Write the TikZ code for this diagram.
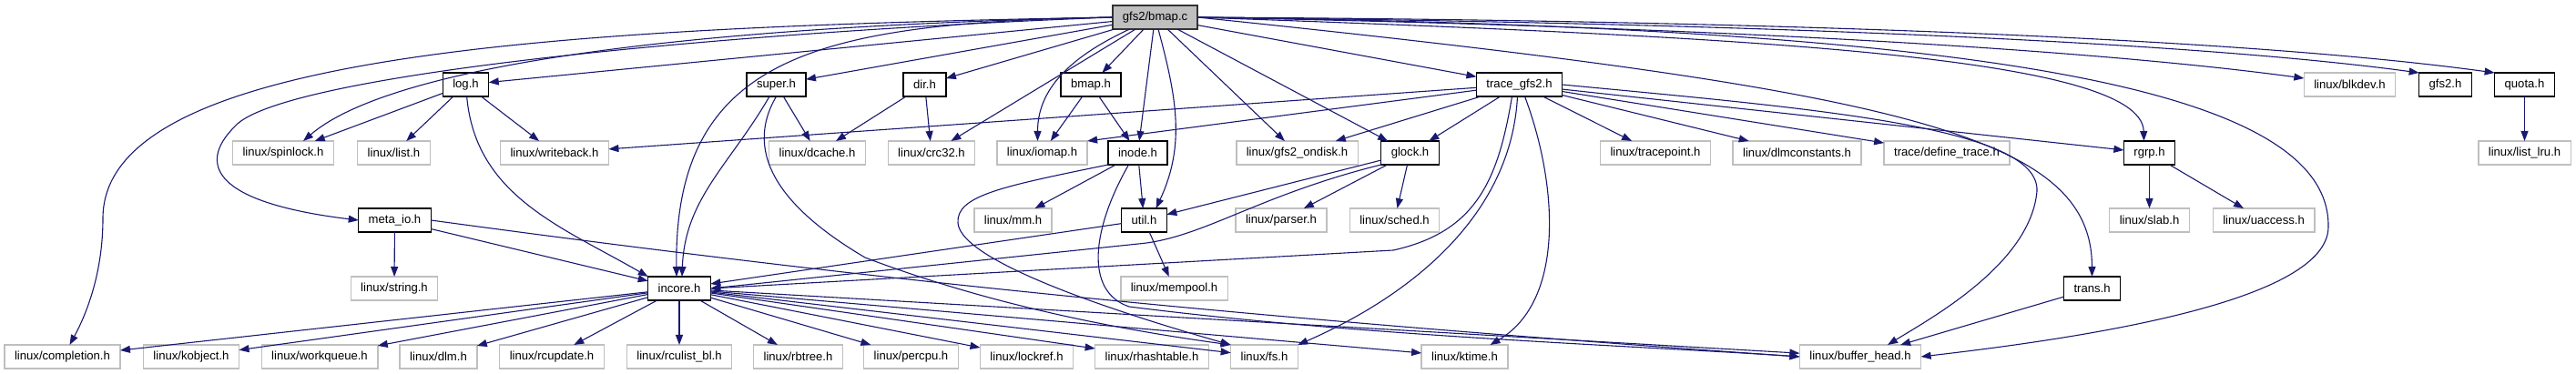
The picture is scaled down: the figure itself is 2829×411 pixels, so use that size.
\documentclass[tikz,border=0pt]{standalone}
\usepackage{fontspec}
\setmainfont{Liberation Sans}
\usepackage{tikz}
\usetikzlibrary{arrows.meta, positioning}
\definecolor{edgeblue}{RGB}{25,25,112}
\definecolor{greybox}{RGB}{191,191,191}
\newcommand{\depfont}{\fontsize{13.1pt}{15pt}\selectfont}

\begin{document}
\begin{tikzpicture}[
    x=1pt, y=-1pt,
    hdr/.style={
      rectangle, draw=black, line width=1.4pt, fill=white,
      inner xsep=11pt, inner ysep=0pt, minimum height=26pt,
      outer sep=0pt, font=\depfont
    },
    ext/.style={hdr, draw=greybox},
    root/.style={hdr, fill=greybox, draw=black!80},
    arr/.style={-{Triangle[length=11pt,width=8pt]}, draw=edgeblue, line width=1.1pt}
  ]
  \useasboundingbox (0,0) rectangle (2829,411);

  \node[root] (bmapc) at (1268.5,19) {gfs2/bmap.c};

  \node[hdr] (logh)    at (511.5,93)  {log.h};
  \node[hdr] (superh)  at (852.5,93)  {super.h};
  \node[hdr] (dirh)    at (1015.5,93) {dir.h};
  \node[hdr] (bmaph)   at (1198,93)   {bmap.h};
  \node[hdr] (traceh)  at (1668.5,93) {trace\_gfs2.h};
  \node[ext] (blkdev)  at (2580.5,93) {linux/blkdev.h};
  \node[hdr] (gfstwoh) at (2685.5,93) {gfs2.h};
  \node[hdr] (quotah)  at (2772.5,93) {quota.h};

  \node[ext] (spinlock)    at (311,168)    {linux/spinlock.h};
  \node[ext] (list)        at (432.5,168)  {linux/list.h};
  \node[ext] (writeback)   at (609,168)    {linux/writeback.h};
  \node[ext] (dcache)      at (897.5,168)  {linux/dcache.h};
  \node[ext] (crc)         at (1023,168)   {linux/crc32.h};
  \node[ext] (iomap)       at (1144.5,168) {linux/iomap.h};
  \node[hdr] (inodeh)      at (1249.5,168) {inode.h};
  \node[ext] (ondisk)      at (1424.5,168) {linux/gfs2\_ondisk.h};
  \node[hdr] (glockh)      at (1548.5,168) {glock.h};
  \node[ext] (tracepoint)  at (1818,168)   {linux/tracepoint.h};
  \node[ext] (dlmconst)    at (1973.5,168) {linux/dlmconstants.h};
  \node[ext] (definetrace) at (2138,168)   {trace/define\_trace.h};
  \node[hdr] (rgrph)       at (2360.5,168) {rgrp.h};
  \node[ext] (listlru)     at (2772.5,168) {linux/list\_lru.h};

  \node[hdr] (metaioh) at (433.5,242)  {meta\_io.h};
  \node[ext] (mm)      at (1112.5,242) {linux/mm.h};
  \node[hdr] (utilh)   at (1256.5,242) {util.h};
  \node[ext] (parser)  at (1407,242)   {linux/parser.h};
  \node[ext] (sched)   at (1531.5,242) {linux/sched.h};
  \node[ext] (slab)    at (2360.5,242) {linux/slab.h};
  \node[ext] (uaccess) at (2486,242)   {linux/uaccess.h};

  \node[ext] (string)  at (433,317)    {linux/string.h};
  \node[hdr] (incoreh) at (746,317)    {incore.h};
  \node[ext] (mempool) at (1289.5,317) {linux/mempool.h};
  \node[hdr] (transh)  at (2297.5,317) {trans.h};

  \node[ext] (completion) at (68.5,392)  {linux/completion.h};
  \node[ext] (kobject)    at (210,392)   {linux/kobject.h};
  \node[ext] (workqueue)  at (351,392)   {linux/workqueue.h};
  \node[ext] (dlm)        at (481.5,392) {linux/dlm.h};
  \node[ext] (rcupdate)   at (606,392)   {linux/rcupdate.h};
  \node[ext] (rculist)    at (746,392)   {linux/rculist\_bl.h};
  \node[ext] (rbtree)     at (876.5,392) {linux/rbtree.h};
  \node[ext] (percpu)     at (1000.5,392) {linux/percpu.h};
  \node[ext] (lockref)    at (1127.5,392) {linux/lockref.h};
  \node[ext] (rhashtable) at (1265,392)  {linux/rhashtable.h};
  \node[ext] (fs)         at (1388.5,392) {linux/fs.h};
  \node[ext] (ktime)      at (1608.5,392) {linux/ktime.h};
  \node[ext] (bufferhead) at (2043,392)  {linux/buffer\_head.h};

  \draw[arr] (bmapc.west) .. controls (600,30) and (113,60) .. (113,240)
             .. controls (113,300) and (95,345) .. ([xshift=8]completion.north);
  \draw[arr] (bmapc.west) .. controls (700,30) and (420,80) .. ([xshift=22]spinlock.north);
  \draw[arr] (bmapc.west) .. controls (800,35) and (330,80) .. (262,135)
             .. controls (215,178) and (230,222) .. (metaioh.west);
  \draw[arr] (bmapc) -- (logh);
  \draw[arr] (bmapc) -- (superh);
  \draw[arr] (bmapc.west) .. controls (900,25) and (740,60) .. ([xshift=-3]incoreh.north);
  \draw[arr] (bmapc) -- (dirh);
  \draw[arr] (bmapc) -- (crc);
  \draw[arr] (bmapc) to[out=-155, in=90] ([xshift=-5]iomap.north);
  \draw[arr] (bmapc) -- (bmaph);
  \draw[arr] (bmapc) -- (inodeh);
  \draw[arr] (bmapc) to[out=-75, in=65] ([xshift=13]utilh.north);
  \draw[arr] (bmapc) -- (ondisk);
  \draw[arr] (bmapc) -- (glockh);
  \draw[arr] (bmapc) -- (traceh);
  \draw[arr] (bmapc.east) .. controls (2100,100) and (2297,150) .. (transh.north);
  \draw[arr] (bmapc.east) .. controls (1900,40) and (2352,60) .. ([xshift=-6]rgrph.north);
  \draw[arr] (bmapc.east) .. controls (1900,30) and (2300,55) .. ([yshift=7]blkdev.west);
  \draw[arr] (bmapc.east) .. controls (1900,25) and (2400,45) .. (gfstwoh.north west);
  \draw[arr] (bmapc.east) .. controls (1900,22) and (2450,40) .. (quotah.north west);
  \draw[arr] (bmapc.east) .. controls (2200,30) and (2560,100) .. (2557,250)
             .. controls (2555,330) and (2300,370) .. (bufferhead.east);

  \draw[arr] (logh) -- (spinlock);
  \draw[arr] (logh) -- (list);
  \draw[arr] (logh) -- (writeback);
  \draw[arr] (logh) to[out=-85, in=150] (incoreh.north west);

  \draw[arr] (metaioh) -- (string);
  \draw[arr] (metaioh) -- (incoreh);
  \draw[arr] (metaioh.east) .. controls (900,300) and (1300,345) .. (bufferhead.west);

  \draw[arr] (superh) to[out=-120, in=88] ([xshift=3]incoreh.north);
  \draw[arr] (superh) -- (dcache);
  \draw[arr] (superh.south) .. controls (815,170) and (860,230) .. (950,283)
             .. controls (1100,340) and (1250,365) .. (fs.north west);

  \draw[arr] (dirh) -- (dcache);
  \draw[arr] (dirh) -- (crc);

  \draw[arr] (bmaph) -- (iomap);
  \draw[arr] (bmaph) -- (inodeh);

  \draw[arr] (inodeh) -- (mm);
  \draw[arr] (inodeh) -- (utilh);
  \draw[arr] (inodeh.south west) .. controls (1100,205) and (1050,215) .. (1052,245)
             .. controls (1055,290) and (1250,350) .. (fs.north west);
  \draw[arr] ([xshift=-10]inodeh.south) .. controls (1200,250) and (1190,320) .. (1240,337)
             .. controls (1500,370) and (1800,380) .. (bufferhead.west);

  \draw[arr] (utilh) -- (incoreh);
  \draw[arr] (utilh) -- (mempool);

  \draw[arr] (glockh) -- (utilh);
  \draw[arr] (glockh.south west) .. controls (1380,215) and (1320,262) .. (1250,268)
             -- (incoreh.east);
  \draw[arr] (glockh) -- (parser);
  \draw[arr] (glockh) -- (sched);

  \draw[arr] (traceh) -- (writeback);
  \draw[arr] (traceh) -- (iomap.north east);
  \draw[arr] (traceh) -- (ondisk);
  \draw[arr] (traceh) -- (glockh);
  \draw[arr] ([xshift=-8]traceh.south) .. controls (1645,200) and (1620,255) .. (1530,275)
             -- (incoreh.east);
  \draw[arr] ([xshift=-2]traceh.south) .. controls (1660,230) and (1560,320) .. (fs.north east);
  \draw[arr] ([xshift=6]traceh.south) .. controls (1710,200) and (1720,330) .. ([xshift=28]ktime.north);
  \draw[arr] (traceh) -- (tracepoint);
  \draw[arr] (traceh) -- (dlmconst);
  \draw[arr] (traceh) -- (definetrace);
  \draw[arr] (traceh) -- (rgrph);
  \draw[arr] (traceh.east) .. controls (2000,120) and (2240,140) .. (2237,210)
             .. controls (2230,290) and (2120,350) .. ([xshift=30]bufferhead.north);

  \draw[arr] (rgrph) -- (slab);
  \draw[arr] (rgrph) -- (uaccess);
  \draw[arr] (quotah) -- (listlru);
  \draw[arr] (transh) -- (bufferhead);

  \draw[arr] (incoreh) -- (completion);
  \draw[arr] (incoreh) -- (kobject);
  \draw[arr] (incoreh) -- (workqueue);
  \draw[arr] (incoreh) -- (dlm);
  \draw[arr] (incoreh) -- (rcupdate);
  \draw[arr] (incoreh) -- (rculist);
  \draw[arr] (incoreh) -- (rbtree);
  \draw[arr] (incoreh) -- (percpu);
  \draw[arr] (incoreh) -- (lockref);
  \draw[arr] (incoreh) -- (rhashtable);
  \draw[arr] (incoreh) -- (fs);
  \draw[arr] (incoreh) -- (ktime);
  \draw[arr] (incoreh) -- (bufferhead);
\end{tikzpicture}
\end{document}
